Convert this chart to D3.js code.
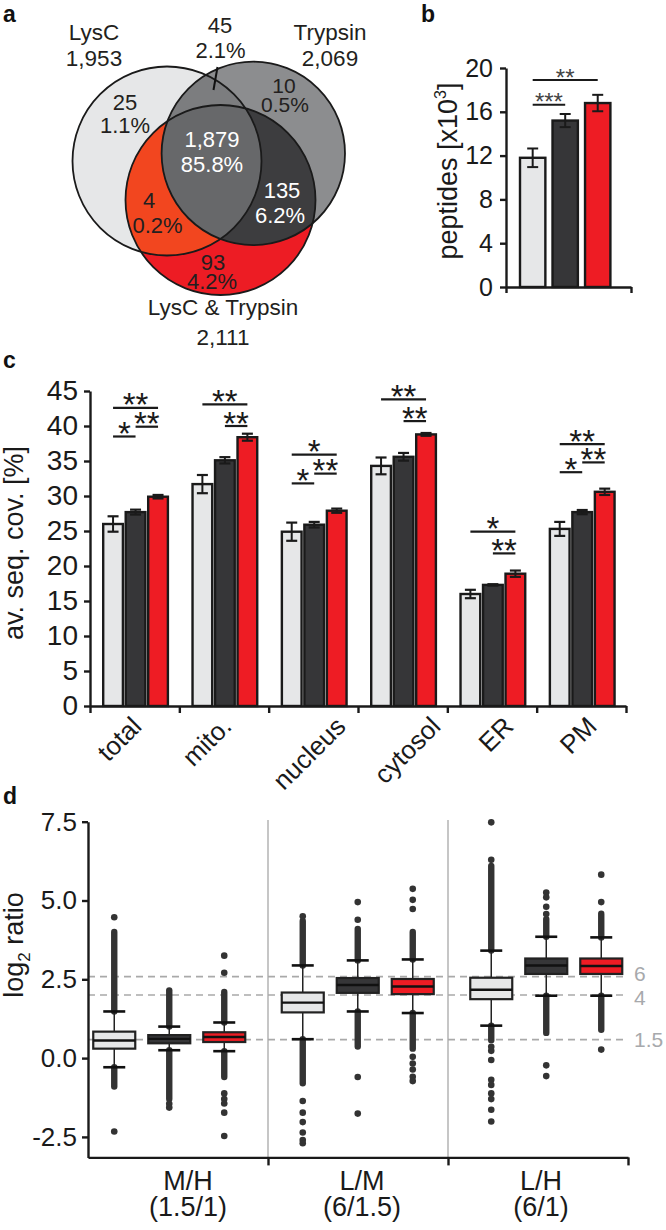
<!DOCTYPE html>
<html><head><meta charset="utf-8">
<script src="https://cdn.jsdelivr.net/npm/d3@7"></script>
<style>
body{margin:0;background:#fff;}
svg{display:block;}
</style></head><body>
<svg id="fig" width="666" height="1230"></svg>
<script>
// ================= DATA =================
// series (used in b, c, d)
const series = ["LysC", "Trypsin", "LysC & Trypsin"];

// ---- panel a : Venn ----
const vennSetNames = ["LysC", "Trypsin", "LysC & Trypsin"];
const vennSetTotals = ["1,953", "2,069", "2,111"];
const vennRegionNames = ["LysC only", "Trypsin only", "LysC∩Trypsin", "LysC∩Combo", "all three", "Trypsin∩Combo", "Combo only"];
const vennCounts = ["25", "10", "45", "4", "1,879", "135", "93"];
const vennPercents = ["1.1%", "0.5%", "2.1%", "0.2%", "85.8%", "6.2%", "4.2%"];

// ---- panel b : peptides [x10^3] ----
const bValues = [11.8, 15.2, 16.8];
const bErrors = [0.85, 0.6, 0.75];
const bTicks = [0, 4, 8, 12, 16, 20];
const bSigFrom = [0, 0];
const bSigTo = [2, 1];
const bSigLabel = ["**", "***"];
const bSigLevel = [18.9, 16.65];

// ---- panel c : av. seq. cov. [%] ----
const cCategories = ["total", "mito.", "nucleus", "cytosol", "ER", "PM"];
const cLysC = [26.0, 31.7, 24.9, 34.3, 16.0, 25.3];
const cTrypsin = [27.7, 35.1, 25.9, 35.6, 17.3, 27.7];
const cCombo = [29.9, 38.4, 27.9, 38.8, 18.9, 30.6];
const cLysCErr = [1.1, 1.3, 1.3, 1.2, 0.6, 1.0];
const cTrypsinErr = [0.35, 0.45, 0.4, 0.55, 0.1, 0.3];
const cComboErr = [0.25, 0.5, 0.3, 0.2, 0.45, 0.45];
const cTicks = [0, 5, 10, 15, 20, 25, 30, 35, 40, 45];
// significance: category index, from series, to series, label, level (in %)
const cSigCat = [0, 0, 0, 1, 1, 2, 2, 2, 3, 3, 4, 4, 5, 5, 5];
const cSigFrom = [0, 1, 0, 0, 1, 0, 1, 0, 0, 1, 0, 1, 0, 1, 0];
const cSigTo = [2, 2, 1, 2, 2, 2, 2, 1, 2, 2, 2, 2, 2, 2, 1];
const cSigLabel = ["**", "**", "*", "**", "**", "*", "**", "*", "**", "**", "*", "**", "**", "**", "*"];
const cSigLevel = [42.6, 39.9, 38.5, 43.1, 40.0, 35.9, 33.2, 31.8, 43.8, 40.7, 24.9, 21.8, 37.4, 34.8, 33.4];

// ---- panel d : log2 ratio boxplots ----
const dGroups = ["M/H", "L/M", "L/H"];
const dGroupRatios = ["(1.5/1)", "(6/1.5)", "(6/1)"];
const dTicks = [-2.5, 0, 2.5, 5, 7.5];
const dRefRatios = [6, 4, 1.5];
const dRefLabels = ["6", "4", "1.5"];
// [whisker low, Q1, median, Q3, whisker high]
const dLysCBox = [[-0.29, 0.30, 0.56, 0.84, 1.48], [0.60, 1.45, 1.76, 2.08, 2.94], [1.03, 1.87, 2.17, 2.55, 3.41]];
const dTrypsinBox = [[0.25, 0.47, 0.61, 0.73, 1.00], [1.48, 2.07, 2.32, 2.54, 3.10], [1.98, 2.67, 2.94, 3.16, 3.85]];
const dComboBox = [[0.22, 0.51, 0.67, 0.82, 1.13], [1.43, 2.03, 2.27, 2.51, 3.13], [1.98, 2.67, 2.92, 3.16, 3.83]];
// continuous runs of overlapping outliers [from, to]
const dLysCRuns = [[[1.48, 4.0], [-0.9, -0.29]], [[2.94, 4.35], [-0.8, 0.6]], [[3.41, 6.1], [0.57, 1.03]]];
const dTrypsinRuns = [[[1.0, 2.15], [-1.3, 0.25]], [[3.1, 4.1], [0.37, 1.48]], [[3.85, 4.41], [0.8, 1.98]]];
const dComboRuns = [[[1.13, 2.1], [-0.6, 0.22]], [[3.13, 4.0], [0.3, 1.43]], [[3.83, 4.58], [0.9, 1.98]]];
// isolated outliers
const dLysCOut = [[4.47, -2.33], [4.5, -1.36, -1.73, -2.03, -2.36, -2.6, -2.7], [7.48, 6.29, 0.36, 0.23, -0.06, -0.69, -0.85, -1.12, -1.3, -1.64, -2.01]];
const dTrypsinOut = [[-1.45, -1.57], [4.95, 4.39, -0.6, -1.76], [5.25, 5.1, 4.8, 4.57, -0.23, -0.57]];
const dComboOut = [[3.25, 2.71, -1.12, -1.3, -1.44, -1.73, -2.47], [5.37, 5.02, 4.73, 0.04, -0.17, -0.36, -0.59, -0.73], [5.82, 4.95, 0.27]];

// ================= STYLE / LAYOUT =================
const FONT = '"Liberation Sans", Arial, Helvetica, sans-serif';
const INK = "#1a1a1a";
const seriesColors = ["#e6e7e8", "#363638", "#ee1c24"];
const svg = d3.select("#fig").style("font-family", FONT);

function txt(g, x, y, s, size, opts = {}) {
  return g.append("text").attr("x", x).attr("y", y).text(s)
    .attr("font-size", size).attr("fill", opts.fill || INK)
    .attr("text-anchor", opts.anchor || "middle")
    .attr("font-weight", opts.weight || "normal");
}
function styleAxis(g, size) {
  g.selectAll("path.domain").attr("stroke", INK).attr("stroke-width", 2.4);
  g.selectAll(".tick line").attr("stroke", INK).attr("stroke-width", 2.4);
  g.selectAll(".tick text").attr("fill", INK).attr("font-size", size).attr("font-family", FONT);
  g.attr("font-family", FONT);
}

// panel letters
[["a", 3, 22], ["b", 421, 22], ["c", 3, 368], ["d", 3, 804]].forEach(([l, x, y]) =>
  txt(svg, x, y, l, 23, { anchor: "start", weight: "bold", fill: "#111" }));

// ================= PANEL A =================
(function () {
  const circles = [{ cx: 167, cy: 161, r: 94.5 }, { cx: 253.3, cy: 153.4, r: 91.7 }, { cx: 220.5, cy: 200, r: 95 }];
  const regionFill = ["#e6e7e8", "#8c8d8f", "#7c7d7f", "#f2461f", "#67686a", "#3d3d3f", "#ed1c24"];
  const g = svg.append("g");
  const defs = svg.append("defs");
  circles.forEach((c, i) => defs.append("clipPath").attr("id", "vc" + i)
    .append("circle").attr("cx", c.cx).attr("cy", c.cy).attr("r", c.r));
  const circ = (parent, c, fill) => parent.append("circle").attr("cx", c.cx).attr("cy", c.cy).attr("r", c.r).attr("fill", fill);
  const [A, B, C] = circles;
  circ(g, A, regionFill[0]);
  circ(g, B, regionFill[1]);
  circ(g.append("g").attr("clip-path", "url(#vc0)"), B, regionFill[2]);
  circ(g, C, regionFill[6]);
  circ(g.append("g").attr("clip-path", "url(#vc0)"), C, regionFill[3]);
  circ(g.append("g").attr("clip-path", "url(#vc1)"), C, regionFill[5]);
  circ(g.append("g").attr("clip-path", "url(#vc0)").append("g").attr("clip-path", "url(#vc1)"), C, regionFill[4]);
  g.selectAll("circle.outline").data(circles).join("circle").attr("class", "outline")
    .attr("cx", d => d.cx).attr("cy", d => d.cy).attr("r", d => d.r)
    .attr("fill", "none").attr("stroke", "#1a1a1a").attr("stroke-width", 1.8);

  // region labels: [count x, count y, pct x, pct y]
  const pos = [[125, 110, 125, 133], [284, 93, 285, 111.5], [220, 33, 220.5, 58], [149, 208, 157.5, 233],
    [212, 147, 212, 171.5], [282, 198, 280, 223], [213, 270, 212, 289]];
  const white = [false, false, false, false, true, true, false];
  const sizes = [22, 21, 22, 22, 22, 22, 22];
  vennCounts.forEach((c, i) => {
    const f = white[i] ? "#ffffff" : "#231f20";
    txt(g, pos[i][0], pos[i][1], c, sizes[i], { fill: f });
    txt(g, pos[i][2], pos[i][3], vennPercents[i], sizes[i], { fill: f });
  });
  // pointer for the small LysC∩Trypsin region
  g.append("line").attr("x1", 217.5).attr("y1", 67).attr("x2", 213.5).attr("y2", 90)
    .attr("stroke", "#111").attr("stroke-width", 2);
  // set names
  const setPos = [[94, 40, 66], [330, 40, 66], [223, 315, 345]];
  vennSetNames.forEach((n, i) => {
    txt(g, setPos[i][0], setPos[i][1], n, 22.5, { fill: "#231f20" });
    txt(g, setPos[i][0], setPos[i][2], vennSetTotals[i], 22.5, { fill: "#231f20" });
  });
})();

// ================= PANEL B =================
(function () {
  const g = svg.append("g");
  const y = d3.scaleLinear().domain([0, 20]).range([287, 68]);
  const x = d3.scaleBand().domain(series).range([520, 610.4]).paddingInner(0.22);
  g.selectAll("rect.bar").data(bValues).join("rect").attr("class", "bar")
    .attr("x", (d, i) => x(series[i])).attr("y", d => y(d))
    .attr("width", x.bandwidth()).attr("height", d => y(0) - y(d))
    .attr("fill", (d, i) => seriesColors[i]).attr("stroke", INK).attr("stroke-width", 2.4);
  const cx = i => x(series[i]) + x.bandwidth() / 2;
  bValues.forEach((v, i) => {
    const e = bErrors[i];
    g.append("line").attr("x1", cx(i)).attr("x2", cx(i)).attr("y1", y(v - e)).attr("y2", y(v + e)).attr("stroke", INK).attr("stroke-width", 2);
    [v - e, v + e].forEach(w => g.append("line").attr("x1", cx(i) - 5.5).attr("x2", cx(i) + 5.5).attr("y1", y(w)).attr("y2", y(w)).attr("stroke", INK).attr("stroke-width", 2));
  });
  const ax = g.append("g").attr("transform", "translate(506,0)")
    .call(d3.axisLeft(y).tickValues(bTicks).tickSize(6).tickPadding(7).tickSizeOuter(0));
  styleAxis(ax, 25);
  const bx = d3.scaleLinear().domain([0, 1]).range([506, 631]);
  const axb = g.append("g").attr("transform", "translate(0,287)")
    .call(d3.axisBottom(bx).tickValues([0, 1]).tickFormat("").tickSize(6).tickSizeOuter(0));
  styleAxis(axb, 10);
  // significance
  bSigFrom.forEach((f, k) => {
    const x1 = cx(f), x2 = cx(bSigTo[k]), yy = y(bSigLevel[k]);
    g.append("line").attr("x1", x1).attr("x2", x2).attr("y1", yy).attr("y2", yy).attr("stroke", INK).attr("stroke-width", 2);
    txt(g, (x1 + x2) / 2, yy + 5.5, bSigLabel[k], 24, { fill: "#444" });
  });
  // y label
  const t = g.append("text").attr("transform", "translate(457,171) rotate(-90)")
    .attr("text-anchor", "middle").attr("font-size", 27).attr("fill", INK);
  t.append("tspan").text("peptides [x10");
  t.append("tspan").text("3").attr("font-size", 16).attr("dy", -11);
  t.append("tspan").text("]").attr("dy", 11);
})();

// ================= PANEL C =================
(function () {
  const g = svg.append("g");
  const y = d3.scaleLinear().domain([0, 45]).range([706, 391]);
  const x = d3.scaleBand().domain(cCategories).range([90, 626]);
  const sx = d3.scaleBand().domain(series).range([13.2, 77.9]).paddingInner(0.124);
  const vals = [cLysC, cTrypsin, cCombo];
  const errs = [cLysCErr, cTrypsinErr, cComboErr];
  const bars = [];
  vals.forEach((arr, s) => arr.forEach((v, i) => bars.push({ s, i, v, e: errs[s][i] })));
  const bx = d => x(cCategories[d.i]) + sx(series[d.s]);
  const bcx = (i, s) => x(cCategories[i]) + sx(series[s]) + sx.bandwidth() / 2;
  g.selectAll("rect.bar").data(bars).join("rect").attr("class", "bar")
    .attr("x", bx).attr("y", d => y(d.v)).attr("width", sx.bandwidth()).attr("height", d => y(0) - y(d.v))
    .attr("fill", d => seriesColors[d.s]).attr("stroke", INK).attr("stroke-width", 2.4);
  bars.forEach(d => {
    const c = bcx(d.i, d.s);
    g.append("line").attr("x1", c).attr("x2", c).attr("y1", y(d.v - d.e)).attr("y2", y(d.v + d.e)).attr("stroke", INK).attr("stroke-width", 2);
    [d.v - d.e, d.v + d.e].forEach(w => g.append("line").attr("x1", c - 5.5).attr("x2", c + 5.5).attr("y1", y(w)).attr("y2", y(w)).attr("stroke", INK).attr("stroke-width", 2.2));
  });
  const ay = g.append("g").attr("transform", "translate(90,0)")
    .call(d3.axisLeft(y).tickValues(cTicks).tickSize(6).tickPadding(6).tickSizeOuter(0));
  styleAxis(ay, 28);
  const xl = d3.scaleLinear().domain([0, cCategories.length]).range([90, 626]);
  const axx = g.append("g").attr("transform", "translate(0,706)")
    .call(d3.axisBottom(xl).tickValues(d3.range(cCategories.length + 1)).tickFormat("").tickSize(7).tickSizeOuter(0));
  styleAxis(axx, 10);
  // rotated category labels
  const labelShift = [8.4, 9, 33.8, 39.5, 23.1, 16.9];
  cCategories.forEach((c, i) => {
    const px = x(c) + x.bandwidth() / 2 + labelShift[i];
    g.append("text").attr("transform", `translate(${px},728) rotate(-45)`)
      .attr("text-anchor", "end").attr("font-size", 26).attr("fill", INK).text(c);
  });
  // significance bars
  cSigCat.forEach((ci, k) => {
    const x1 = bcx(ci, cSigFrom[k]), x2 = bcx(ci, cSigTo[k]), yy = y(cSigLevel[k]);
    g.append("line").attr("x1", x1).attr("x2", x2).attr("y1", yy).attr("y2", yy).attr("stroke", INK).attr("stroke-width", 2.2);
    txt(g, (x1 + x2) / 2, yy + 8.5, cSigLabel[k], 33, { fill: INK });
  });
  g.append("text").attr("transform", "translate(23,543) rotate(-90)")
    .attr("text-anchor", "middle").attr("font-size", 27).attr("fill", INK).text("av. seq. cov. [%]");
})();

// ================= PANEL D =================
(function () {
  const g = svg.append("g");
  const y = d3.scaleLinear().domain([-3.15, 7.5]).range([1157.4, 821.7]);
  const gx = d3.scaleBand().domain(dGroups).range([75, 640.5]);
  const sx = d3.scalePoint().domain(series).range([-55, 55]);
  const ax = d3.scaleLinear().domain([0, dGroups.length]).range([88, 628]);
  // group separators
  [1, 2].forEach(k => g.append("line").attr("x1", ax(k)).attr("x2", ax(k)).attr("y1", 820).attr("y2", 1157)
    .attr("stroke", "#b3b3b3").attr("stroke-width", 1.5));
  // reference lines
  const refLabelShift = [-3.5, 2, 0];
  dRefRatios.forEach((r, k) => {
    const yy = y(Math.log2(r));
    g.append("line").attr("x1", 88).attr("x2", 628).attr("y1", yy).attr("y2", yy)
      .attr("stroke", "#a9a9a9").attr("stroke-width", 1.6).attr("stroke-dasharray", "7,5");
    txt(g, 634, yy + refLabelShift[k], dRefLabels[k], 21, { anchor: "start", fill: "#a7a9ac" }).attr("dominant-baseline", "central");
  });
  const boxes = [dLysCBox, dTrypsinBox, dComboBox];
  const runs = [dLysCRuns, dTrypsinRuns, dComboRuns];
  const outs = [dLysCOut, dTrypsinOut, dComboOut];
  const center = (gi, s) => gx(dGroups[gi]) + gx.bandwidth() / 2 + sx(series[s]);
  const OUT = "#333333";
  dGroups.forEach((grp, gi) => {
    series.forEach((sname, s) => {
      const c = center(gi, s);
      const [wl, q1, md, q3, wh] = boxes[s][gi];
      runs[s][gi].forEach(([a, b]) => g.append("line").attr("x1", c).attr("x2", c).attr("y1", y(a)).attr("y2", y(b))
        .attr("stroke", OUT).attr("stroke-width", 6.4).attr("stroke-linecap", "round"));
      g.selectAll(null).data(outs[s][gi]).join("circle").attr("cx", c).attr("cy", d => y(d)).attr("r", 3.3).attr("fill", OUT);
      g.append("line").attr("x1", c).attr("x2", c).attr("y1", y(wl)).attr("y2", y(wh)).attr("stroke", "#222").attr("stroke-width", 1.5);
      [wl, wh].forEach(w => g.append("line").attr("x1", c - 11).attr("x2", c + 11).attr("y1", y(w)).attr("y2", y(w))
        .attr("stroke", "#111").attr("stroke-width", 2.6));
      g.append("rect").attr("x", c - 21).attr("width", 42).attr("y", y(q3)).attr("height", y(q1) - y(q3))
        .attr("fill", seriesColors[s]).attr("stroke", "#222").attr("stroke-width", 2.2);
      g.append("line").attr("x1", c - 21).attr("x2", c + 21).attr("y1", y(md)).attr("y2", y(md))
        .attr("stroke", "#111").attr("stroke-width", 2.4);
    });
  });
  const ay = g.append("g").attr("transform", "translate(88,0)")
    .call(d3.axisLeft(y).tickValues(dTicks).tickFormat(d => d.toFixed(1)).tickSize(6).tickPadding(5).tickSizeOuter(0));
  styleAxis(ay, 26);
  const axx = g.append("g").attr("transform", "translate(0,1157.4)")
    .call(d3.axisBottom(ax).tickValues([1, 2, 3]).tickFormat("").tickSize(8).tickSizeOuter(0));
  styleAxis(axx, 10);
  const labelShift = [10, 4, 3];
  dGroups.forEach((grp, gi) => {
    const px = (ax(gi) + ax(gi + 1)) / 2 + labelShift[gi];
    txt(g, px, 1190, grp, 27);
    txt(g, px, 1216, dGroupRatios[gi], 27);
  });
  const t = g.append("text").attr("transform", "translate(23,945) rotate(-90)")
    .attr("text-anchor", "middle").attr("font-size", 27).attr("fill", INK);
  t.append("tspan").text("log");
  t.append("tspan").text("2").attr("font-size", 17).attr("dy", 7);
  t.append("tspan").text(" ratio").attr("dy", -7);
})();
</script>
</body></html>
